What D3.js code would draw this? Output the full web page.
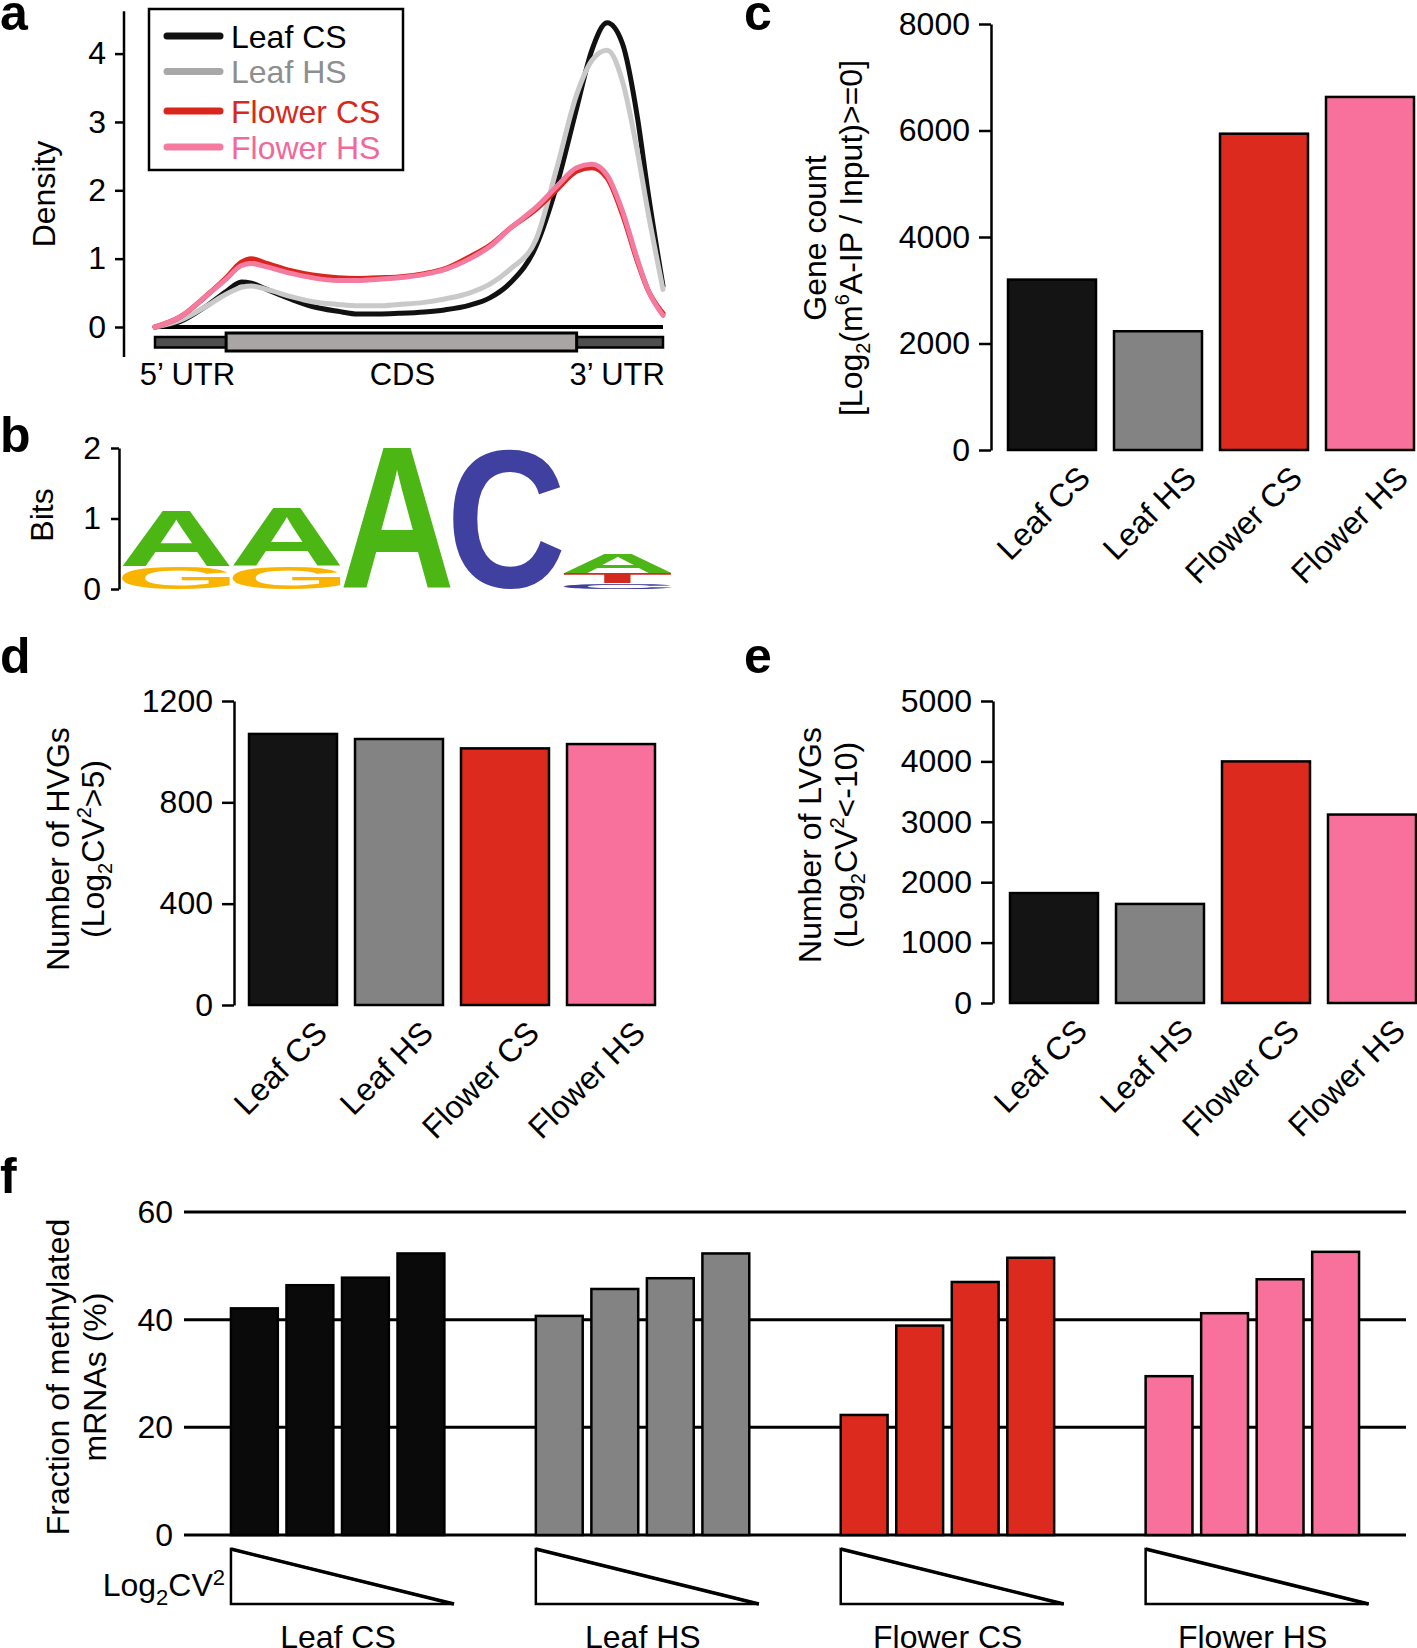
<!DOCTYPE html>
<html><head><meta charset="utf-8">
<script src="https://cdn.jsdelivr.net/npm/d3@7"></script>
<style>
body{margin:0;background:#fff}
svg{display:block}
text{font-family:"Liberation Sans",Arial,Helvetica,sans-serif}
</style></head>
<body><svg id="fig" width="1417" height="1648"></svg>
<script>
// ---------------- DATA ----------------
const groups = ["Leaf CS", "Leaf HS", "Flower CS", "Flower HS"];
const groupColors = ["#141414", "#838383", "#dc2b1e", "#f8719c"];

// panel a: metagene density (position along transcript, %)
const densityPos      = [0, 5, 10, 14, 17, 19, 22, 27, 31, 36, 40, 44, 48, 53, 57, 62, 66, 70, 75, 79, 83, 86, 89, 92, 95, 97, 100];
const densityLeafCS   = [0, 0.08, 0.30, 0.52, 0.66, 0.64, 0.55, 0.40, 0.30, 0.23, 0.19, 0.19, 0.20, 0.22, 0.25, 0.32, 0.43, 0.65, 1.18, 2.05, 3.20, 4.05, 4.45, 4.15, 3.05, 2.00, 0.60];
const densityLeafHS   = [0, 0.10, 0.30, 0.48, 0.58, 0.60, 0.55, 0.44, 0.37, 0.33, 0.31, 0.31, 0.33, 0.36, 0.41, 0.50, 0.63, 0.85, 1.28, 2.30, 3.40, 3.90, 4.05, 3.60, 2.55, 1.70, 0.55];
const densityFlowerCS = [0, 0.15, 0.45, 0.72, 0.95, 1.00, 0.93, 0.82, 0.76, 0.72, 0.71, 0.72, 0.73, 0.78, 0.85, 1.03, 1.20, 1.45, 1.72, 2.00, 2.28, 2.33, 2.18, 1.65, 0.95, 0.55, 0.20];
const densityFlowerHS = [0, 0.15, 0.45, 0.70, 0.90, 0.93, 0.88, 0.78, 0.72, 0.68, 0.68, 0.70, 0.72, 0.77, 0.84, 1.00, 1.18, 1.45, 1.75, 2.05, 2.33, 2.38, 2.22, 1.70, 0.98, 0.55, 0.17];
const densityTicks = [0, 1, 2, 3, 4];
const regionLabels = ["5\u2019 UTR", "CDS", "3\u2019 UTR"];
const cdsSpan = [14, 83];

// panel b: sequence logo
const logoPositions = [1, 2, 3, 4, 5];
const logoLetters = [["G", "A"], ["G", "A"], ["A"], ["C"], ["C", "T", "A"]];
const logoBits    = [[0.32, 0.78], [0.32, 0.82], [1.99], [1.99], [0.08, 0.15, 0.27]];
const bitTicks = [0, 1, 2];
const letterColors = {A: "#4cb714", C: "#4040a0", G: "#f8b400", T: "#d42a1e"};

// panel c
const geneCount = [3200, 2230, 5940, 6630];
const geneCountTicks = [0, 2000, 4000, 6000, 8000];
// panel d
const hvgCount = [1070, 1050, 1013, 1030];
const hvgTicks = [0, 400, 800, 1200];
// panel e
const lvgCount = [1820, 1640, 4000, 3120];
const lvgTicks = [0, 1000, 2000, 3000, 4000, 5000];
// panel f
const cvBins = ["bin1", "bin2", "bin3", "bin4"];
const fracLeafCS   = [42.1, 46.4, 47.8, 52.3];
const fracLeafHS   = [40.7, 45.7, 47.7, 52.3];
const fracFlowerCS = [22.3, 38.9, 47.0, 51.5];
const fracFlowerHS = [29.5, 41.2, 47.5, 52.6];
const fracTicks = [0, 20, 40, 60];

// ---------------- DRAWING ----------------
const svg = d3.select("#fig");
const FS = 32;
const intFmt = d3.format("d");

function styleAxis(g) {
  g.attr("font-family", null).attr("font-size", null);
  g.select(".domain").attr("stroke", "#000").attr("stroke-width", 2.5);
  g.selectAll(".tick line").attr("stroke", "#000").attr("stroke-width", 2.5);
  g.selectAll(".tick text").attr("font-size", FS).attr("fill", "#000");
}
function rotLabel(x, y, lines) {
  lines.forEach((parts, i) => {
    const t = svg.append("text")
      .attr("transform", `translate(${x[i]},${y}) rotate(-90)`)
      .attr("text-anchor", "middle").attr("font-size", FS).attr("fill", "#000");
    parts.forEach(([s, kind]) => {
      const ts = t.append("tspan").text(s);
      if (kind === "sub") ts.attr("font-size", 20).attr("dy", 8);
      else if (kind === "sup") ts.attr("font-size", 20).attr("dy", -13);
      else if (kind === "back-sub") ts.attr("dy", -8);
      else if (kind === "back-sup") ts.attr("dy", 13);
    });
  });
}
function panelLetter(s, x, y) {
  svg.append("text").attr("x", x).attr("y", y).attr("font-size", 50)
    .attr("font-weight", "bold").attr("fill", "#000").text(s);
}

// ---- panel a ----
panelLetter("a", 0, 30);
{
  const x = d3.scaleLinear().domain([0, 100]).range([155, 663]);
  const y = d3.scaleLinear().domain([0, 4]).range([327, 53.6]);
  svg.append("line").attr("x1", 124).attr("x2", 124).attr("y1", y(4.62)).attr("y2", y(-0.44))
    .attr("stroke", "#000").attr("stroke-width", 2.5);
  const g = svg.append("g").attr("transform", "translate(124,0)")
    .call(d3.axisLeft(y).tickValues(densityTicks).tickSize(9).tickPadding(9).tickFormat(intFmt));
  styleAxis(g);
  g.select(".domain").remove();
  rotLabel([55], 194, [[["Density"]]]);

  svg.append("line").attr("x1", x(0)).attr("x2", x(100)).attr("y1", y(0)).attr("y2", y(0))
    .attr("stroke", "#000").attr("stroke-width", 4);
  svg.append("rect").attr("x", x(0)).attr("width", x(100) - x(0)).attr("y", 337).attr("height", 10.5)
    .attr("fill", "#4e4e4e").attr("stroke", "#000").attr("stroke-width", 2.5);
  svg.append("rect").attr("x", x(cdsSpan[0])).attr("width", x(cdsSpan[1]) - x(cdsSpan[0])).attr("y", 333).attr("height", 18)
    .attr("fill", "#a9a5a4").attr("stroke", "#000").attr("stroke-width", 3);
  const regionX = [6.4, 48.7, 91];
  regionLabels.forEach((s, i) => {
    svg.append("text").attr("x", x(regionX[i])).attr("y", 385).attr("text-anchor", "middle")
      .attr("font-size", 31).attr("fill", "#000").text(s);
  });

  const series = [densityLeafCS, densityLeafHS, densityFlowerCS, densityFlowerHS];
  const curveColors = ["#111111", "#c9c9c9", "#d8261c", "#f57a9f"];
  const line = d3.line().x((d, i) => x(densityPos[i])).y(d => y(d)).curve(d3.curveMonotoneX);
  series.forEach((s, i) => {
    svg.append("path").attr("d", line(s)).attr("fill", "none").attr("stroke", curveColors[i])
      .attr("stroke-width", 5).attr("stroke-linejoin", "round").attr("stroke-linecap", "round");
  });

  svg.append("rect").attr("x", 149).attr("y", 9).attr("width", 254).attr("height", 161)
    .attr("fill", "none").attr("stroke", "#000").attr("stroke-width", 2.5);
  const legLine = ["#111111", "#a8a8a8", "#d8261c", "#f57a9f"];
  const legText = ["#000000", "#8e8e8e", "#d42a1c", "#f0699a"];
  const legY = [36, 71.5, 111, 147];
  groups.forEach((s, i) => {
    svg.append("line").attr("x1", 167).attr("x2", 220).attr("y1", legY[i]).attr("y2", legY[i])
      .attr("stroke", legLine[i]).attr("stroke-width", 7).attr("stroke-linecap", "round");
    svg.append("text").attr("x", 231).attr("y", legY[i] + 11.5).attr("font-size", FS)
      .attr("fill", legText[i]).text(s);
  });
}

// ---- panel b ----
panelLetter("b", 0, 452);
{
  const x = d3.scaleBand().domain(logoPositions).range([121, 673]).padding(0);
  const y = d3.scaleLinear().domain([0, 2]).range([589, 448]);
  const g = svg.append("g").attr("transform", "translate(119,0)")
    .call(d3.axisLeft(y).tickValues(bitTicks).tickSize(8).tickPadding(10).tickSizeOuter(0).tickFormat(intFmt));
  styleAxis(g);
  rotLabel([53], 515, [[["Bits"]]]);

  const ctx = document.createElement("canvas").getContext("2d");
  ctx.font = "bold 200px 'Liberation Sans'";
  logoPositions.forEach((p, i) => {
    let cum = 0;
    logoLetters[i].forEach((L, j) => {
      const h = logoBits[i][j];
      const yBot = y(cum), yTop = y(cum + h);
      cum += h;
      const x0 = x(p) + 1, w = x.bandwidth() - 2;
      const m = ctx.measureText(L);
      const gl = m.actualBoundingBoxLeft, gr = m.actualBoundingBoxRight;
      const ga = m.actualBoundingBoxAscent, gd = m.actualBoundingBoxDescent;
      const sx = w / (gl + gr), sy = (yBot - yTop) / (ga + gd);
      svg.append("text").attr("font-size", 200).attr("font-weight", "bold")
        .attr("fill", letterColors[L])
        .attr("transform", `translate(${x0 + gl * sx},${yTop + ga * sy}) scale(${sx},${sy})`)
        .text(L);
    });
  });
}

// ---- generic bar panel ----
function barPanel(values, ticks, axisX, yRange, xRange, labelLines, labelX, labelY, labDx) {
  const x = d3.scaleBand().domain(groups).range(xRange).paddingInner(0.17).paddingOuter(0.085);
  const y = d3.scaleLinear().domain([0, d3.max(ticks)]).range(yRange);
  const g = svg.append("g").attr("transform", `translate(${axisX},0)`)
    .call(d3.axisLeft(y).tickValues(ticks).tickSize(12).tickPadding(9).tickSizeOuter(0).tickFormat(intFmt));
  styleAxis(g);
  svg.append("g").selectAll("rect").data(values).join("rect")
    .attr("x", (d, i) => x(groups[i])).attr("width", x.bandwidth())
    .attr("y", d => y(d)).attr("height", d => y(0) - y(d))
    .attr("fill", (d, i) => groupColors[i]).attr("stroke", "#000").attr("stroke-width", 2.5);
  svg.append("g").selectAll("text").data(groups).join("text")
    .attr("transform", d => `translate(${x(d) + x.bandwidth() / 2 + labDx},${y(0) + 30}) rotate(-45)`)
    .attr("text-anchor", "end").attr("font-size", 32).attr("fill", "#000").text(d => d);
  rotLabel(labelX, labelY, labelLines);
}

panelLetter("c", 744, 30);
barPanel(geneCount, geneCountTicks, 991, [450, 24], [999, 1423],
  [[["Gene count"]],
   [["[Log"], ["2", "sub"], ["(m", "back-sub"], ["6", "sup"], ["A-IP / Input)>=0]", "back-sup"]]],
  [826, 862], 238, 40);

panelLetter("d", 0, 673);
barPanel(hvgCount, hvgTicks, 234, [1005, 701], [240, 664],
  [[["Number of HVGs"]],
   [["(Log"], ["2", "sub"], ["CV", "back-sub"], ["2", "sup"], [">5)", "back-sup"]]],
  [69, 104], 849, 36);

panelLetter("e", 744, 673);
barPanel(lvgCount, lvgTicks, 993, [1003, 701], [1001, 1425],
  [[["Number of LVGs"]],
   [["(Log"], ["2", "sub"], ["CV", "back-sub"], ["2", "sup"], ["<-10)", "back-sup"]]],
  [821, 857], 845, 35);

// ---- panel f ----
panelLetter("f", 0, 1193);
{
  const fracSeries = [fracLeafCS, fracLeafHS, fracFlowerCS, fracFlowerHS];
  const colorsF = ["#0a0a0a", "#838383", "#dc2b1e", "#f8719c"];
  const x0 = d3.scaleBand().domain(groups).range([184, 1406]).paddingInner(0.3).paddingOuter(0.154);
  const x1 = d3.scaleBand().domain(cvBins).range([0, x0.bandwidth()]).paddingInner(0.156).paddingOuter(0);
  const y = d3.scaleLinear().domain([0, 60]).range([1535, 1212]);
  svg.append("g").selectAll("line").data(fracTicks).join("line")
    .attr("x1", 184).attr("x2", 1406).attr("y1", d => y(d)).attr("y2", d => y(d))
    .attr("stroke", "#000").attr("stroke-width", 3);
  svg.append("g").selectAll("text").data(fracTicks).join("text")
    .attr("x", 173).attr("y", d => y(d) + 11).attr("text-anchor", "end")
    .attr("font-size", FS).attr("fill", "#000").text(d => d);
  groups.forEach((gname, gi) => {
    const gx = x0(gname);
    svg.append("g").selectAll("rect").data(fracSeries[gi]).join("rect")
      .attr("x", (d, i) => gx + x1(cvBins[i])).attr("width", x1.bandwidth())
      .attr("y", d => y(d)).attr("height", d => y(0) - y(d))
      .attr("fill", colorsF[gi]).attr("stroke", "#000").attr("stroke-width", 2.5);
    svg.append("path")
      .attr("d", `M${gx},1549 L${gx},1604 L${gx + 223},1604 Z`)
      .attr("fill", "#fff").attr("stroke", "#000").attr("stroke-width", 2.5).attr("stroke-linejoin", "miter");
    svg.append("line").attr("x1", gx).attr("y1", 1549).attr("x2", gx + 223).attr("y2", 1604)
      .attr("stroke", "#000").attr("stroke-width", 3.5);
    svg.append("text").attr("x", gx + 107).attr("y", 1648).attr("text-anchor", "middle")
      .attr("font-size", FS).attr("fill", "#000").text(gname);
  });
  const t = svg.append("text").attr("x", 225).attr("y", 1596).attr("text-anchor", "end")
    .attr("font-size", 32).attr("fill", "#000");
  t.append("tspan").text("Log");
  t.append("tspan").text("2").attr("font-size", 22).attr("dy", 9);
  t.append("tspan").text("CV").attr("dy", -9);
  t.append("tspan").text("2").attr("font-size", 22).attr("dy", -11);
  rotLabel([69, 106], 1377, [[["Fraction of methylated"]], [["mRNAs (%)"]]]);
}
</script>
</body></html>
